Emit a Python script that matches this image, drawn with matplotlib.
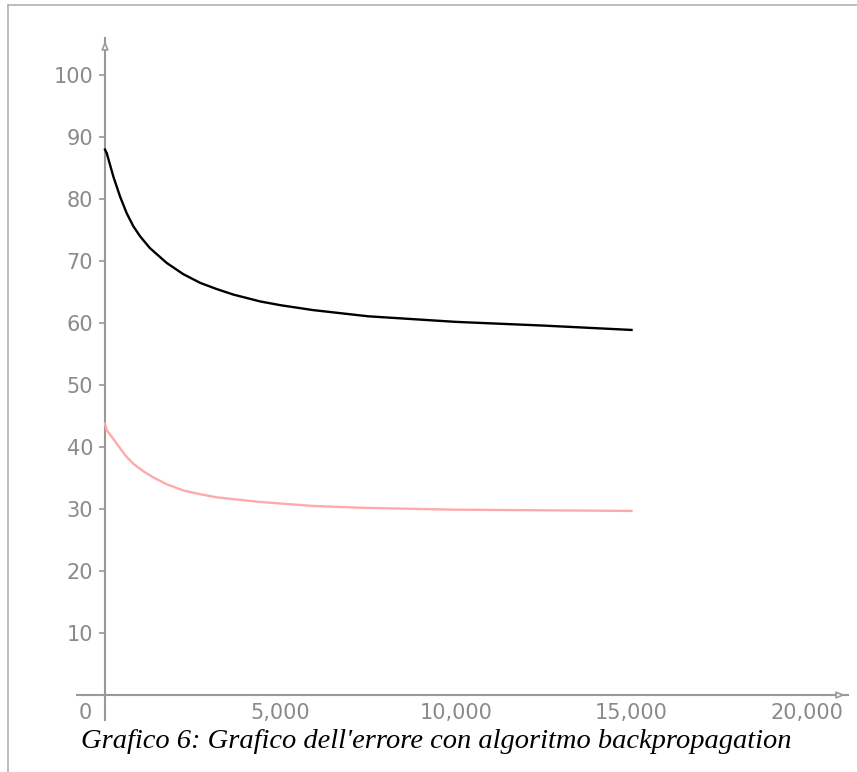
import matplotlib.pyplot as plt
from matplotlib.transforms import ScaledTranslation
from matplotlib.lines import Line2D

# epochs vs error
epochs_train = [0, 50, 240, 430, 620, 810, 1000, 1280, 1760, 2230, 2710, 3180, 3660, 4420, 4990, 5930, 7500, 10000, 12500, 15000]
err_train = [88.0, 87.4, 83.6, 80.4, 77.7, 75.6, 74.0, 72.1, 69.7, 67.9, 66.5, 65.5, 64.6, 63.5, 62.9, 62.1, 61.1, 60.2, 59.6, 58.9]

epochs_test = [0, 50, 240, 430, 620, 810, 1090, 1380, 1760, 2230, 2710, 3180, 3660, 4320, 4990, 5930, 7360, 10000, 12500, 15000]
err_test = [43.8, 42.7, 41.3, 39.8, 38.4, 37.3, 36.1, 35.1, 34.0, 33.0, 32.4, 31.9, 31.6, 31.2, 30.9, 30.5, 30.2, 29.9, 29.8, 29.7]

x_ticks = [0, 5000, 10000, 15000, 20000]
x_labels = ["0", "5,000", "10,000", "15,000", "20,000"]
y_ticks = [10, 20, 30, 40, 50, 60, 70, 80, 90, 100]

caption = "Grafico 6: Grafico dell'errore con algoritmo backpropagation"

W, H = 857, 772
fig = plt.figure(figsize=(W / 100, H / 100), dpi=100)

# axes box in pixels: x 77..848, y 38..720
ax = fig.add_axes([77 / W, 1 - 720 / H, (848 - 77) / W, (720 - 38) / H])
ax.set_xlim(-798, 21168)
ax.set_ylim(-4.03, 106.0)

grey = "#999999"
lbl = "#8a8a8a"
ax.spines["top"].set_visible(False)
ax.spines["right"].set_visible(False)
for side in ["left", "bottom"]:
    ax.spines[side].set_position(("data", 0))
    ax.spines[side].set_color(grey)
    ax.spines[side].set_linewidth(1.5)

# small open arrow heads at the ends of the axes
ax.annotate("", xy=(0, 106.0), xytext=(0, 101.5),
            arrowprops=dict(arrowstyle="-|>,head_length=0.5,head_width=0.2",
                            fc="white", ec=grey, lw=1.2), annotation_clip=False)
ax.annotate("", xy=(21168, 0), xytext=(20300, 0),
            arrowprops=dict(arrowstyle="-|>,head_length=0.5,head_width=0.2",
                            fc="white", ec=grey, lw=1.2), annotation_clip=False)

ax.plot(epochs_train, err_train, color="black", lw=1.7, zorder=3)
ax.plot(epochs_test, err_test, color="#ffaaaa", lw=1.7, zorder=3)

ax.set_yticks(y_ticks)
ax.set_yticklabels([str(v) for v in y_ticks])
ax.tick_params(axis="y", length=4.5, width=1.2, color=grey, pad=4,
               labelsize=15, labelcolor=lbl)
ax.set_xticks(x_ticks)
ax.set_xticklabels(x_labels)
ax.tick_params(axis="x", length=0, pad=6, labelsize=15, labelcolor=lbl)
first = ax.get_xticklabels()[0]
first.set_transform(first.get_transform() + ScaledTranslation(-20 / 100, 0, fig.dpi_scale_trans))

# frame lines (left and top only)
fig.add_artist(Line2D([8 / W, 8 / W], [0, 1 - 5 / H], color="#b0b0b0", lw=1.2))
fig.add_artist(Line2D([8 / W, 1], [1 - 5 / H, 1 - 5 / H], color="#b0b0b0", lw=1.2))

fig.text(436 / W, 1 - 742 / H, caption, ha="center", va="center",
         fontsize=20.5, style="italic", family="Liberation Serif", color="black")

fig.savefig("out.png", dpi=100)
